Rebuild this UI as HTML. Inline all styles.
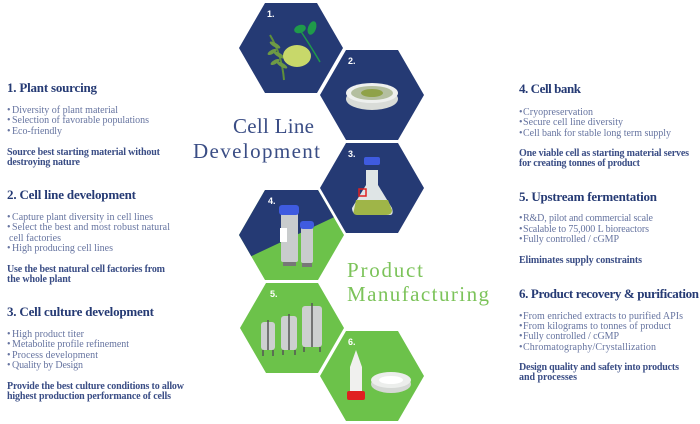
<!DOCTYPE html>
<html><head><meta charset="utf-8"><style>
html,body{margin:0;padding:0;background:#fff;}
svg{display:block;}
.h{font-family:"Liberation Serif",serif;font-weight:bold;font-size:13px;fill:#253a74;}
.b{font-family:"Liberation Serif",serif;font-size:10px;fill:#6674a0;}
.s{font-family:"Liberation Serif",serif;font-weight:bold;font-size:10px;fill:#3a4d85;}
.n{font-family:"Liberation Sans",sans-serif;font-weight:bold;font-size:9px;fill:#fff;}
</style></head><body>
<svg width="700" height="424" viewBox="0 0 700 424" xmlns="http://www.w3.org/2000/svg">
<defs>
<clipPath id="c4"><polygon points="239,235 265,190 318,190 344,235 318,280 265,280"/></clipPath>
</defs>
<polygon points="239,48 265,3 317,3 343,48 317,93 265,93" fill="#253a74"/>
<polygon points="320,95 346,50 398,50 424,95 398,140 346,140" fill="#253a74"/>
<polygon points="320,188 346,143 398,143 424,188 398,233 346,233" fill="#253a74"/>
<g clip-path="url(#c4)">
<rect x="239" y="190" width="106" height="90" fill="#6cc24a"/>
<polygon points="239,190 345,190 345,212 239,262" fill="#253a74"/>
</g>
<polygon points="240,328 266,283 318,283 344,328 318,373 266,373" fill="#6cc24a"/>
<polygon points="320,376 346,331 398,331 424,376 398,421 346,421" fill="#6cc24a"/>
<text class="n" x="267" y="17">1.</text>
<text class="n" x="348" y="64">2.</text>
<text class="n" x="348" y="157">3.</text>
<text class="n" x="268" y="204">4.</text>
<text class="n" x="270" y="297">5.</text>
<text class="n" x="348" y="345">6.</text>
<path d="M270 35 Q282 55 284 80" stroke="#5f8f3a" stroke-width="2" fill="none"/>
<g fill="#6e9a45"><ellipse cx="275" cy="45" rx="6" ry="2" transform="rotate(30 275 45)"/><ellipse cx="279" cy="55" rx="6" ry="2" transform="rotate(30 279 55)"/><ellipse cx="282" cy="65" rx="6" ry="2" transform="rotate(30 282 65)"/><ellipse cx="272" cy="52" rx="5" ry="2" transform="rotate(-30 272 52)"/><ellipse cx="275" cy="62" rx="5" ry="2" transform="rotate(-30 275 62)"/></g>
<ellipse cx="297" cy="56" rx="14" ry="11" fill="#c8d86a"/>
<path d="M300 30 Q310 45 320 62" stroke="#1f9a4a" stroke-width="1.5" fill="none"/>
<ellipse cx="300" cy="29" rx="6" ry="4" fill="#1f9a4a" transform="rotate(-20 300 29)"/>
<ellipse cx="312" cy="28" rx="4" ry="7" fill="#1f9a4a" transform="rotate(20 312 28)"/>
<ellipse cx="372" cy="99" rx="26" ry="11" fill="#d9dcd8"/>
<ellipse cx="372" cy="93" rx="26" ry="10" fill="#eef0ee"/>
<ellipse cx="372" cy="93" rx="21" ry="7" fill="#b4bfa0"/>
<ellipse cx="372" cy="93" rx="11" ry="4" fill="#8fa248"/>
<path d="M366 170 L366 185 L352 208 Q352 215 360 215 L390 215 Q394 215 392 208 L378 185 L378 170 Z" fill="#dfe5e6"/>
<path d="M356 200 L388 200 L392 210 Q392 215 386 215 L358 215 Q352 215 354 210 Z" fill="#9fb548"/>
<rect x="364" y="157" width="16" height="8" rx="2" fill="#3f5be0"/>
<rect x="359" y="189" width="7" height="7" fill="none" stroke="#e02020" stroke-width="1.5"/>
<rect x="281" y="212" width="17" height="50" rx="2" fill="#c9cccd"/>
<rect x="279" y="205" width="20" height="10" rx="3" fill="#3f5be0"/>
<rect x="280" y="228" width="7" height="14" fill="#fff"/>
<rect x="301" y="227" width="12" height="36" rx="2" fill="#c9cccd"/>
<rect x="300" y="221" width="14" height="8" rx="3" fill="#3f5be0"/>
<rect x="283" y="262" width="13" height="4" fill="#777"/>
<rect x="302" y="263" width="10" height="4" fill="#777"/>
<rect x="261" y="322" width="14" height="28" rx="3" fill="#cdd0d0"/>
<rect x="281" y="316" width="16" height="34" rx="3" fill="#cdd0d0"/>
<rect x="302" y="306" width="20" height="41" rx="3" fill="#cdd0d0"/>
<g stroke="#555" stroke-width="1.5"><line x1="268" y1="320" x2="268" y2="350"/><line x1="289" y1="314" x2="289" y2="350"/><line x1="312" y1="303" x2="312" y2="347"/><line x1="263" y1="350" x2="263" y2="356"/><line x1="273" y1="350" x2="273" y2="356"/><line x1="283" y1="350" x2="283" y2="355"/><line x1="295" y1="350" x2="295" y2="355"/><line x1="304" y1="347" x2="304" y2="352"/><line x1="320" y1="347" x2="320" y2="352"/></g>
<path d="M350 367 L356 350 L362 367 L362 392 L350 392 Z" fill="#f0f0ee"/>
<rect x="347" y="391" width="18" height="9" rx="2" fill="#e02020"/>
<ellipse cx="391" cy="384" rx="20" ry="9" fill="#d5d8d5"/>
<ellipse cx="391" cy="380" rx="20" ry="8" fill="#eceeec"/>
<ellipse cx="391" cy="380" rx="12" ry="4" fill="#fff"/>
<text x="233" y="133" font-family="Liberation Serif,serif" font-size="21" fill="#3a4d85" textLength="81">Cell Line</text>
<text x="193" y="158" font-family="Liberation Serif,serif" font-size="21" fill="#3a4d85" textLength="127">Development</text>
<text x="347" y="277" font-family="Liberation Serif,serif" font-size="21" fill="#7cc35a" textLength="76">Product</text>
<text x="347" y="301" font-family="Liberation Serif,serif" font-size="21" fill="#7cc35a" textLength="142">Manufacturing</text>
<text class="h" x="7" y="92" textLength="90">1. Plant sourcing</text>
<text class="b" x="7" y="113">•</text><text class="b" x="12" y="113" textLength="106">Diversity of plant material</text>
<text class="b" x="7" y="123">•</text><text class="b" x="12" y="123" textLength="137">Selection of favorable populations</text>
<text class="b" x="7" y="134">•</text><text class="b" x="12" y="134" textLength="50">Eco-friendly</text>
<text class="s" x="7" y="155" textLength="153">Source best starting material without</text>
<text class="s" x="7" y="165" textLength="73">destroying nature</text>
<text class="h" x="7" y="199" textLength="129">2. Cell line development</text>
<text class="b" x="7" y="220">•</text><text class="b" x="12" y="220" textLength="141">Capture plant diversity in cell lines</text>
<text class="b" x="7" y="230">•</text><text class="b" x="12" y="230" textLength="158">Select the best and most robust natural</text>
<text class="b" x="9" y="241" textLength="52">cell factories</text>
<text class="b" x="7" y="251">•</text><text class="b" x="12" y="251" textLength="101">High producing cell lines</text>
<text class="s" x="7" y="272" textLength="158">Use the best natural cell factories from</text>
<text class="s" x="7" y="282" textLength="64">the whole plant</text>
<text class="h" x="7" y="316" textLength="147">3. Cell culture development</text>
<text class="b" x="7" y="337">•</text><text class="b" x="12" y="337" textLength="72">High product titer</text>
<text class="b" x="7" y="347">•</text><text class="b" x="12" y="347" textLength="117">Metabolite profile refinement</text>
<text class="b" x="7" y="358">•</text><text class="b" x="12" y="358" textLength="86">Process development</text>
<text class="b" x="7" y="368">•</text><text class="b" x="12" y="368" textLength="71">Quality by Design</text>
<text class="s" x="7" y="389" textLength="177">Provide the best culture conditions to allow</text>
<text class="s" x="7" y="399" textLength="164">highest production performance of cells</text>
<text class="h" x="519" y="93" textLength="62">4. Cell bank</text>
<text class="b" x="519" y="115">•</text><text class="b" x="523" y="115" textLength="70">Cryopreservation</text>
<text class="b" x="519" y="125">•</text><text class="b" x="523" y="125" textLength="100">Secure cell line diversity</text>
<text class="b" x="519" y="136">•</text><text class="b" x="523" y="136" textLength="148">Cell bank for stable long term supply</text>
<text class="s" x="519" y="156" textLength="170">One viable cell as starting material serves</text>
<text class="s" x="519" y="166" textLength="121">for creating tonnes of product</text>
<text class="h" x="519" y="201" textLength="138">5. Upstream fermentation</text>
<text class="b" x="519" y="221">•</text><text class="b" x="523" y="221" textLength="130">R&amp;D, pilot and commercial scale</text>
<text class="b" x="519" y="232">•</text><text class="b" x="523" y="232" textLength="126">Scalable to 75,000 L bioreactors</text>
<text class="b" x="519" y="242">•</text><text class="b" x="523" y="242" textLength="96">Fully controlled / cGMP</text>
<text class="s" x="519" y="263" textLength="123">Eliminates supply constraints</text>
<text class="h" x="519" y="298" textLength="180">6. Product recovery &amp; purification</text>
<text class="b" x="519" y="319">•</text><text class="b" x="523" y="319" textLength="160">From enriched extracts to purified APIs</text>
<text class="b" x="519" y="329">•</text><text class="b" x="523" y="329" textLength="148">From kilograms to tonnes of product</text>
<text class="b" x="519" y="339">•</text><text class="b" x="523" y="339" textLength="96">Fully controlled / cGMP</text>
<text class="b" x="519" y="350">•</text><text class="b" x="523" y="350" textLength="133">Chromatography/Crystallization</text>
<text class="s" x="519" y="370" textLength="160">Design quality and safety into products</text>
<text class="s" x="519" y="380" textLength="58">and processes</text>
</svg>
</body></html>
